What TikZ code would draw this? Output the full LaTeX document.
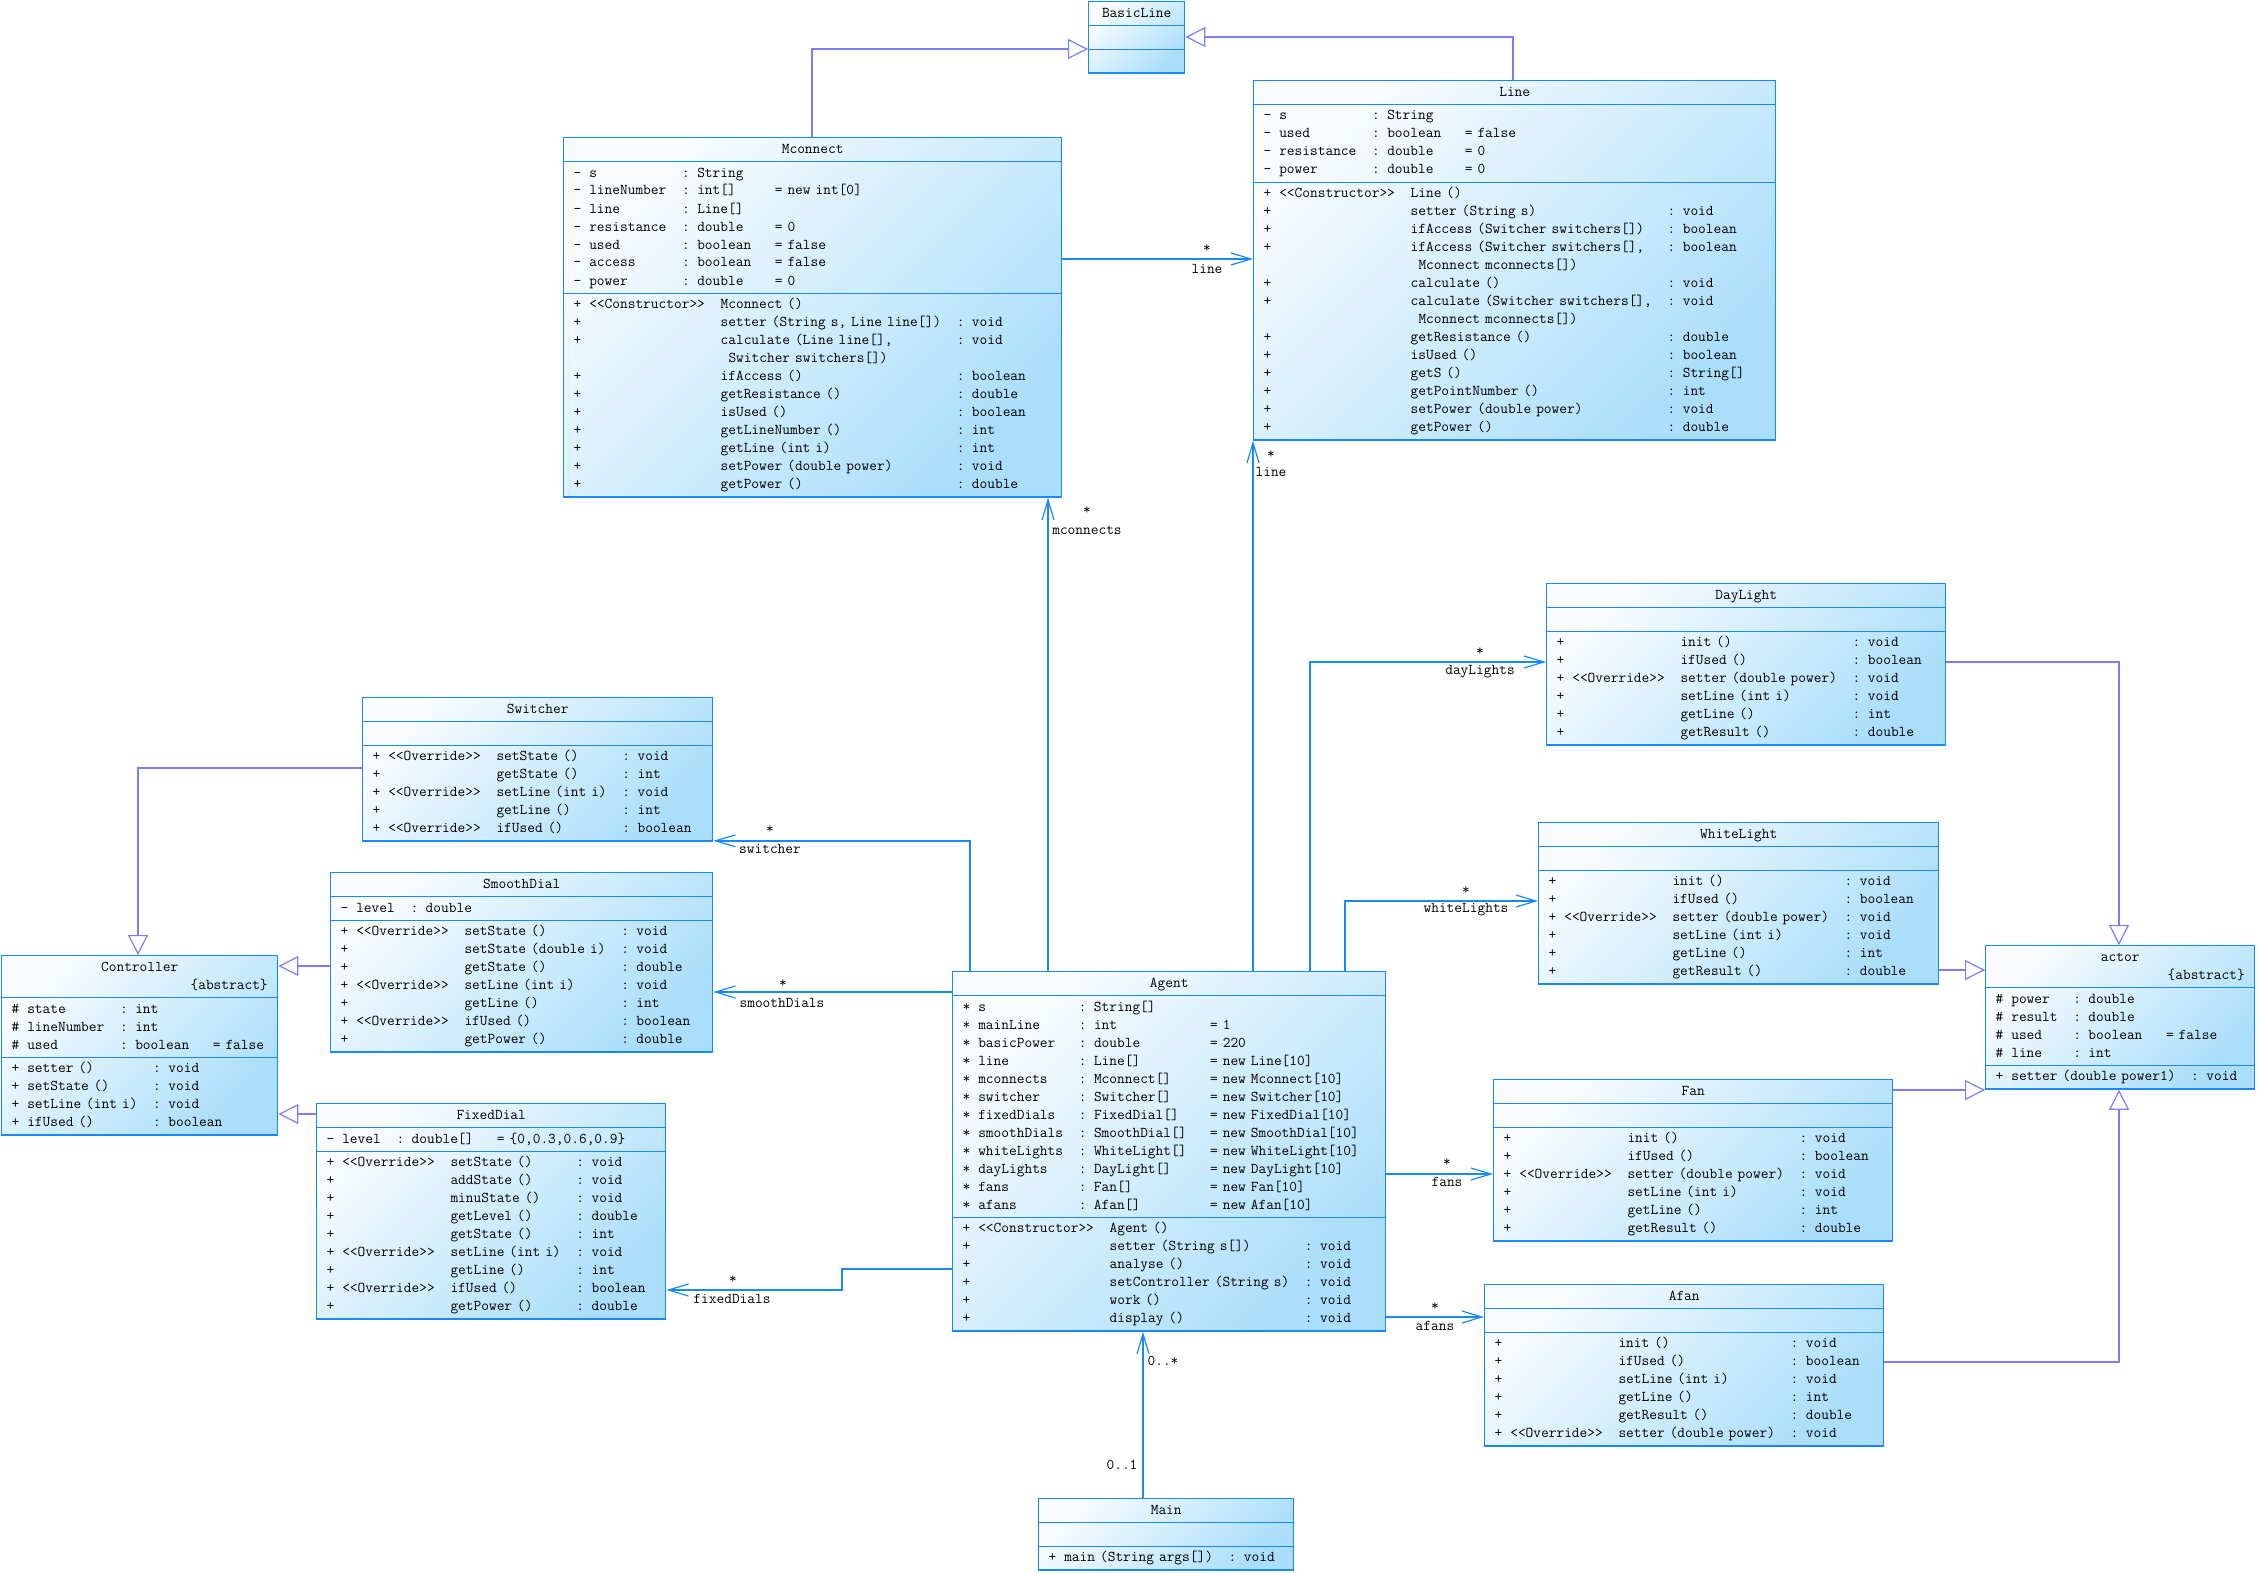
\documentclass[tikz,border=0pt]{standalone}
\usepackage{fontspec}
\usetikzlibrary{arrows.meta,positioning,shapes.multipart}
\definecolor{clsline}{RGB}{24,136,255}
\definecolor{clslight}{RGB}{248,252,255}
\definecolor{clsdark}{RGB}{170,222,250}
\definecolor{isaline}{RGB}{125,125,250}
\newlength\cw
\setlength\cw{7.86pt}
\newcommand\umltext{\ttfamily\fontsize{14.97pt}{18pt}\selectfont}
\newcommand\attrtab[1]{\begin{tabular}{@{\hspace{10pt}}l@{\hspace{\cw}}l@{\hspace{2\cw}}l@{\hspace{3\cw}}l@{}}#1\end{tabular}}
\newcommand\optab[1]{\begin{tabular}{@{\hspace{10pt}}l@{\hspace{\cw}}l@{\hspace{2\cw}}l@{\hspace{2\cw}}l@{}}#1\end{tabular}}
\newcommand\plaintab[1]{\begin{tabular}{@{\hspace{10pt}}l@{\hspace{\cw}}l@{\hspace{2\cw}}l@{}}#1\end{tabular}}
\newcommand\classhead[1]{\centering\strut #1\par}
\newcommand\abstracthead[1]{\centering\strut #1\par\raggedleft\strut\{abstract\}\kern10pt\par}
\tikzset{
  umlclass/.style={rectangle split,rectangle split parts=3,draw=clsline,line width=1.4pt,
    top color=clslight,bottom color=clsdark,shading angle=45,
    inner xsep=0pt,inner ysep=2.2pt,text width=#1,align=left,anchor=north west,font=\umltext},
  assoc/.style={draw=clsline,line width=1.4pt,-{Straight Barb[length=20pt,width=12pt,line width=1.2pt]}},
  isa/.style={draw=isaline,line width=1.2pt,-{Triangle[open,length=20pt,width=20pt,line width=1.2pt]}},
  mult/.style={font=\umltext,inner sep=0pt}
}
\begin{document}
\begin{tikzpicture}[x=1pt,y=-1pt]
\useasboundingbox (0,0) rectangle (2258,1573);
% classes
\node[umlclass=96pt] (basicline) at (1088,1) {\classhead{BasicLine}
  \nodepart{two}\strut\nodepart{three}\strut};
\node[umlclass=498pt] (mconnect) at (563,137) {\classhead{Mconnect}
  \nodepart{two}\attrtab{
  - & s & : String & \\
  - & lineNumber & : int[] & = new int[0]\\
  - & line & : Line[] & \\
  - & resistance & : double & = 0\\
  - & used & : boolean & = false\\
  - & access & : boolean & = false\\
  - & power & : double & = 0}
  \nodepart{three}\optab{
  + & <<Constructor>> & Mconnect () & \\
  + & & setter (String s, Line line[]) & : void\\
  + & & calculate (Line line[], & : void\\
    & & \hspace{\cw}Switcher switchers[]) & \\
  + & & ifAccess () & : boolean\\
  + & & getResistance () & : double\\
  + & & isUsed () & : boolean\\
  + & & getLineNumber () & : int\\
  + & & getLine (int i) & : int\\
  + & & setPower (double power) & : void\\
  + & & getPower () & : double}};
\node[umlclass=522pt] (line) at (1253,80) {\classhead{Line}
  \nodepart{two}\attrtab{
  - & s & : String & \\
  - & used & : boolean & = false\\
  - & resistance & : double & = 0\\
  - & power & : double & = 0}
  \nodepart{three}\optab{
  + & <<Constructor>> & Line () & \\
  + & & setter (String s) & : void\\
  + & & ifAccess (Switcher switchers[]) & : boolean\\
  + & & ifAccess (Switcher switchers[], & : boolean\\
    & & \hspace{\cw}Mconnect mconnects[]) & \\
  + & & calculate () & : void\\
  + & & calculate (Switcher switchers[], & : void\\
    & & \hspace{\cw}Mconnect mconnects[]) & \\
  + & & getResistance () & : double\\
  + & & isUsed () & : boolean\\
  + & & getS () & : String[]\\
  + & & getPointNumber () & : int\\
  + & & setPower (double power) & : void\\
  + & & getPower () & : double}};
\node[umlclass=350pt] (switcher) at (362,697) {\classhead{Switcher}
  \nodepart{two}\strut
  \nodepart{three}\optab{
  + & <<Override>> & setState () & : void\\
  + & & getState () & : int\\
  + & <<Override>> & setLine (int i) & : void\\
  + & & getLine () & : int\\
  + & <<Override>> & ifUsed () & : boolean}};
\node[umlclass=382pt] (smoothdial) at (330,872) {\classhead{SmoothDial}
  \nodepart{two}\attrtab{- & level & : double & }
  \nodepart{three}\optab{
  + & <<Override>> & setState () & : void\\
  + & & setState (double i) & : void\\
  + & & getState () & : double\\
  + & <<Override>> & setLine (int i) & : void\\
  + & & getLine () & : int\\
  + & <<Override>> & ifUsed () & : boolean\\
  + & & getPower () & : double}};
\node[umlclass=276pt] (controller) at (1,955) {\abstracthead{Controller}
  \nodepart{two}\attrtab{
  \# & state & : int & \\
  \# & lineNumber & : int & \\
  \# & used & : boolean & = false}
  \nodepart{three}\plaintab{
  + & setter () & : void\\
  + & setState () & : void\\
  + & setLine (int i) & : void\\
  + & ifUsed () & : boolean}};
\node[umlclass=349pt] (fixeddial) at (316,1103) {\classhead{FixedDial}
  \nodepart{two}\attrtab{- & level & : double[] & = \{0,0.3,0.6,0.9\}}
  \nodepart{three}\optab{
  + & <<Override>> & setState () & : void\\
  + & & addState () & : void\\
  + & & minuState () & : void\\
  + & & getLevel () & : double\\
  + & & getState () & : int\\
  + & <<Override>> & setLine (int i) & : void\\
  + & & getLine () & : int\\
  + & <<Override>> & ifUsed () & : boolean\\
  + & & getPower () & : double}};
\node[umlclass=433pt] (agent) at (952,971) {\classhead{Agent}
  \nodepart{two}\attrtab{
  {*} & s & : String[] & \\
  {*} & mainLine & : int & = 1\\
  {*} & basicPower & : double & = 220\\
  {*} & line & : Line[] & = new Line[10]\\
  {*} & mconnects & : Mconnect[] & = new Mconnect[10]\\
  {*} & switcher & : Switcher[] & = new Switcher[10]\\
  {*} & fixedDials & : FixedDial[] & = new FixedDial[10]\\
  {*} & smoothDials & : SmoothDial[] & = new SmoothDial[10]\\
  {*} & whiteLights & : WhiteLight[] & = new WhiteLight[10]\\
  {*} & dayLights & : DayLight[] & = new DayLight[10]\\
  {*} & fans & : Fan[] & = new Fan[10]\\
  {*} & afans & : Afan[] & = new Afan[10]}
  \nodepart{three}\optab{
  + & <<Constructor>> & Agent () & \\
  + & & setter (String s[]) & : void\\
  + & & analyse () & : void\\
  + & & setController (String s) & : void\\
  + & & work () & : void\\
  + & & display () & : void}};
\node[umlclass=399pt] (daylight) at (1546,583) {\classhead{DayLight}
  \nodepart{two}\strut
  \nodepart{three}\optab{
  + & & init () & : void\\
  + & & ifUsed () & : boolean\\
  + & <<Override>> & setter (double power) & : void\\
  + & & setLine (int i) & : void\\
  + & & getLine () & : int\\
  + & & getResult () & : double}};
\node[umlclass=400pt] (whitelight) at (1538,822) {\classhead{WhiteLight}
  \nodepart{two}\strut
  \nodepart{three}\optab{
  + & & init () & : void\\
  + & & ifUsed () & : boolean\\
  + & <<Override>> & setter (double power) & : void\\
  + & & setLine (int i) & : void\\
  + & & getLine () & : int\\
  + & & getResult () & : double}};
\node[umlclass=269pt] (actor) at (1985,945) {\abstracthead{actor}
  \nodepart{two}\attrtab{
  \# & power & : double & \\
  \# & result & : double & \\
  \# & used & : boolean & = false\\
  \# & line & : int & }
  \nodepart{three}\plaintab{+ & setter (double power1) & : void}};
\node[umlclass=399pt] (fan) at (1493,1079) {\classhead{Fan}
  \nodepart{two}\strut
  \nodepart{three}\optab{
  + & & init () & : void\\
  + & & ifUsed () & : boolean\\
  + & <<Override>> & setter (double power) & : void\\
  + & & setLine (int i) & : void\\
  + & & getLine () & : int\\
  + & & getResult () & : double}};
\node[umlclass=399pt] (afan) at (1484,1284) {\classhead{Afan}
  \nodepart{two}\strut
  \nodepart{three}\optab{
  + & & init () & : void\\
  + & & ifUsed () & : boolean\\
  + & & setLine (int i) & : void\\
  + & & getLine () & : int\\
  + & & getResult () & : double\\
  + & <<Override>> & setter (double power) & : void}};
\node[umlclass=255pt] (main) at (1038,1498) {\classhead{Main}
  \nodepart{two}\strut
  \nodepart{three}\plaintab{+ & main (String args[]) & : void}};
% generalizations
\draw[isa] ([xshift=249pt]mconnect.north west) |- ([yshift=-48pt]basicline.north west);
\draw[isa] ([xshift=260pt]line.north west) |- ([yshift=-36pt]basicline.north east);
\draw[isa] ([yshift=-71pt]switcher.north west) -| ([xshift=137pt]controller.north west);
\draw[isa] ([yshift=-94pt]smoothdial.north west) -- ([yshift=-11pt]controller.north east);
\draw[isa] ([yshift=-11pt]fixeddial.north west) -- ([yshift=-159pt]controller.north east);
\draw[isa] ([yshift=-79pt]daylight.north east) -| ([xshift=134pt]actor.north west);
\draw[isa] ([yshift=-148pt]whitelight.north east) -- ([yshift=-25pt]actor.north west);
\draw[isa] ([yshift=-11pt]fan.north east) -- ([yshift=-145pt]actor.north west);
\draw[isa] ([yshift=-78pt]afan.north east) -| ([xshift=134pt]actor.south west);
% associations
\draw[assoc] ([yshift=-122pt]mconnect.north east) -- ([yshift=-179pt]line.north west);
\draw[assoc] (agent.north -| line.south west) -- (line.south west);
\draw[assoc] ([xshift=96pt]agent.north west) -- ([xshift=96pt]agent.north west |- mconnect.south);
\draw[assoc] ([xshift=358pt]agent.north west) |- ([yshift=-79pt]daylight.north west);
\draw[assoc] ([xshift=393pt]agent.north west) |- ([yshift=-79pt]whitelight.north west);
\draw[assoc] ([yshift=-203pt]agent.north east) -- ([yshift=-95pt]fan.north west);
\draw[assoc] ([yshift=-346pt]agent.north east) -- ([yshift=-33pt]afan.north west);
\draw[assoc] ([xshift=18pt]agent.north west) |- ([yshift=1pt]switcher.south east);
\draw[assoc] ([yshift=-21pt]agent.north west) -- ([yshift=-120pt]smoothdial.north east);
\draw[assoc] ([yshift=-298pt]agent.north west) -- ++(-110pt,0) |- ([yshift=-187pt]fixeddial.north east);
\draw[assoc] ([xshift=105pt]main.north west) -- ([xshift=105pt]main.north west |- agent.south);
% multiplicities and roles
\node[mult] (mline) at (1207,249) {*};
\node[mult] (rline) at (1207,269) {line};
\node[mult] (mline2) at (1271,455) {*};
\node[mult] (rline2) at (1271,472) {line};
\node[mult] (mmconn) at (1087,511) {*};
\node[mult] (rmconn) at (1087,530) {mconnects};
\node[mult] (mday) at (1480,652) {*};
\node[mult] (rday) at (1480,672) {dayLights};
\node[mult] (mwhite) at (1466,891) {*};
\node[mult] (rwhite) at (1466,910) {whiteLights};
\node[mult] (mfan) at (1447,1163) {*};
\node[mult] (rfan) at (1447,1182) {fans};
\node[mult] (mafan) at (1435,1307) {*};
\node[mult] (rafan) at (1435,1326) {afans};
\node[mult] (mswitch) at (770,830) {*};
\node[mult] (rswitch) at (770,849) {switcher};
\node[mult] (msmooth) at (783,984) {*};
\node[mult] (rsmooth) at (782,1003) {smoothDials};
\node[mult] (mfixed) at (733,1280) {*};
\node[mult] (rfixed) at (732,1299) {fixedDials};
\node[mult] (magent) at (1163,1361) {0..*};
\node[mult] (mmain) at (1122,1465) {0..1};
\end{tikzpicture}
\end{document}
